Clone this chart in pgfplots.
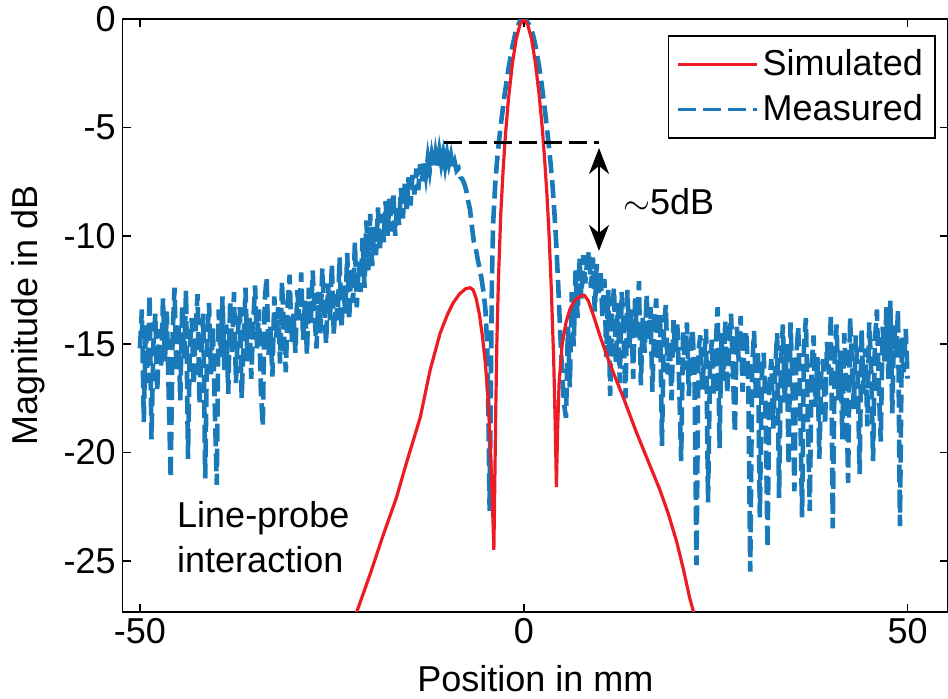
\documentclass[border=0pt]{standalone}
\usepackage{fontspec}
\setmainfont{Liberation Sans}
\usepackage{pgfplots}
\pgfplotsset{compat=1.18}
\usetikzlibrary{arrows.meta,calc}
\definecolor{simred}{RGB}{237,28,36}
\definecolor{measblue}{RGB}{25,121,185}

\begin{document}
\begin{tikzpicture}
\begin{axis}[%
name=ax,
width=412.65pt,
height=296.35pt,
scale only axis,
xmin=-52.25, xmax=55.26,
ymin=-27.35, ymax=0,
xtick={-50,0,50},
ytick={-25,-20,-15,-10,-5,0},
tick align=inside,
major tick length=4pt,
axis line style={line width=0.8pt},
every tick/.style={black,line width=0.8pt},
/pgf/number format/assume math mode=true,
tick label style={font=\fontsize{18}{18}\selectfont},
xlabel={Position in mm},
ylabel={Magnitude in dB},
every axis x label/.style={at={(axis description cs:0.5,0)},yshift=-40pt,anchor=base,font=\fontsize{18}{18}\selectfont},
every axis y label/.style={at={(axis description cs:-0.1146,0.5)},rotate=90,anchor=center,font=\fontsize{18}{18}\selectfont},
legend style={at={(axis description cs:0.985,0.973)},anchor=north east,draw=black,line width=0.8pt,
  font=\fontsize{18}{18}\selectfont,inner xsep=4pt,inner ysep=5pt,row sep=4pt,legend cell align=left},
legend image code/.code={\draw[#1] (0pt,0pt) -- (39.5pt,0pt);},
]
\addlegendimage{simred,line width=1.6pt}
\addlegendentry{Simulated}
\addlegendimage{measblue,line width=1.6pt,dash pattern=on 9pt off 3.5pt}
\addlegendentry{Measured}

% measured
\addplot[measblue,line width=2.3pt,dash pattern=on 9pt off 3.5pt,forget plot] coordinates {
(-50,-15.2) (-49.75,-13.4) (-49.5,-18.6) (-49.25,-14.1)
(-49,-16.8) (-48.75,-12.7) (-48.5,-19.4) (-48.25,-15.0)
(-48,-13.6) (-47.75,-17.2) (-47.5,-14.3) (-47.25,-16.1)
(-47,-12.9) (-46.75,-15.8) (-46.5,-13.5) (-46.25,-17.4)
(-46,-21.2) (-45.75,-14.6) (-45.5,-12.4) (-45.25,-16.3)
(-45,-14.0) (-44.75,-17.6) (-44.5,-13.2) (-44.25,-15.7)
(-44,-12.5) (-43.75,-20.3) (-43.5,-15.1) (-43.25,-13.8)
(-43,-16.9) (-42.75,-14.4) (-42.5,-12.7) (-42.25,-17.8)
(-42,-15.3) (-41.75,-13.6) (-41.5,-21.2) (-41.25,-14.8)
(-41,-13.1) (-40.75,-16.4) (-40.5,-14.2) (-40.25,-17.9)
(-40,-21.5) (-39.75,-13.4) (-39.5,-15.6) (-39.25,-12.8)
(-39,-16.2) (-38.75,-14.1) (-38.5,-17.3) (-38.25,-13.0)
(-38,-15.4) (-37.75,-12.6) (-37.5,-16.8) (-37.25,-14.5)
(-37,-13.3) (-36.75,-17.5) (-36.5,-14.9) (-36.25,-12.4)
(-36,-15.8) (-35.75,-13.7) (-35.5,-16.6) (-35.25,-14.0)
(-35,-12.3) (-34.75,-15.2) (-34.5,-13.4) (-34.25,-17.2)
(-34,-18.8) (-33.75,-13.0) (-33.5,-11.9) (-33.25,-15.5)
(-33,-14.2) (-32.75,-16.5) (-32.5,-12.8) (-32.25,-14.7)
(-32,-13.3) (-31.75,-15.9) (-31.5,-12.1) (-31.25,-14.4)
(-31,-16.3) (-30.75,-13.1) (-30.5,-11.8) (-30.25,-14.9)
(-30,-13.6) (-29.75,-15.4) (-29.5,-12.5) (-29.25,-13.9)
(-29,-11.7) (-28.75,-14.8) (-28.5,-13.0) (-28.25,-15.5)
(-28,-12.4) (-27.75,-14.1) (-27.5,-11.6) (-27.25,-13.7)
(-27,-15.2) (-26.75,-12.6) (-26.5,-14.5) (-26.25,-11.5)
(-26,-13.4) (-25.75,-15.0) (-25.5,-12.2) (-25.25,-13.9)
(-25,-11.3) (-24.75,-14.6) (-24.5,-12.7) (-24.25,-13.9)
(-24,-11.0) (-23.75,-14.3) (-23.5,-12.3) (-23.25,-13.6)
(-23,-10.8) (-22.75,-13.9) (-22.5,-11.5) (-22.25,-13.1)
(-22,-10.3) (-21.75,-13.3) (-21.5,-11.2) (-21.25,-12.6)
(-21,-10.1) (-20.75,-12.4) (-20.5,-9.3) (-20.25,-11.6)
(-20,-9.0) (-19.75,-11.4) (-19.5,-9.6) (-19.25,-10.9)
(-19,-8.7) (-18.75,-10.7) (-18.5,-9.0) (-18.25,-10.3)
(-18,-8.4) (-17.75,-10.0) (-17.5,-8.3) (-17.25,-9.8)
(-17,-8.0) (-16.75,-10.0) (-16.5,-8.6) (-16.25,-9.5)
(-16,-7.8) (-15.75,-9.2) (-15.5,-7.6) (-15.25,-8.9)
(-15,-7.3) (-14.75,-8.6) (-14.5,-7.2) (-14.25,-8.1)
(-14,-6.9) (-13.75,-7.9) (-13.5,-6.7) (-13.25,-7.5)
(-13,-6.5) (-12.75,-7.2) (-12.5,-6.4) (-12.25,-7.0)
(-12,-6.3) (-11.75,-6.9) (-11.5,-6.2) (-11.25,-6.8)
(-11,-6.1) (-10.75,-6.7) (-10.5,-6.2) (-10.25,-6.8)
(-10,-6.2) (-9.75,-6.7) (-9.5,-6.3) (-9.25,-6.9)
(-9,-6.6) (-8.75,-7.0) (-8.5,-6.9) (-8.25,-7.3)
(-8,-7.4) (-7.75,-7.6) (-7.5,-7.9) (-7.25,-8.4)
(-7,-8.8) (-6.75,-9.6) (-6.5,-10.3) (-6.25,-10.6)
(-6,-11.1) (-5.75,-11.5) (-5.5,-12.0) (-5.25,-12.6)
(-5,-13.4) (-4.75,-15.2) (-4.6,-18.5) (-4.45,-22.7) (-4.3,-17.0) (-4.15,-12.0)
(-4.0,-9.5) (-3.75,-7.8) (-3.5,-6.6) (-3.25,-5.7) (-3.0,-4.9) (-2.75,-4.2)
(-2.5,-3.5) (-2.25,-2.9) (-2,-2.3) (-1.75,-1.8) (-1.5,-1.3) (-1.25,-0.9)
(-1,-0.5) (-0.75,-0.3) (-0.5,-0.1) (-0.25,0) (0,0) (0.25,-0.05) (0.5,-0.15)
(0.75,-0.3) (1,-0.5) (1.25,-0.8) (1.5,-1.2) (1.75,-1.7) (2,-2.2) (2.25,-2.8)
(2.5,-3.5) (2.75,-4.2) (3,-5.0) (3.25,-5.8) (3.5,-6.7) (3.75,-7.7) (4,-9.0)
(4.25,-10.5) (4.5,-12.4) (4.75,-14.5) (5,-16.4) (5.25,-17.8)
(5.5,-18.4) (5.75,-14.2) (6.0,-17.0) (6.25,-12.6) (6.5,-15.1) (6.75,-11.6)
(7,-13.8) (7.25,-11.0) (7.5,-12.9) (7.75,-10.9) (8,-12.2) (8.25,-11.2)
(8.5,-10.7) (8.75,-12.4) (9,-11.0) (9.25,-13.5) (9.5,-11.3) (9.75,-12.8)
(10,-11.6) (10.25,-13.8) (10.5,-12.0) (10.75,-15.6) (11,-12.5) (11.25,-17.4)
(11.5,-13.6) (11.75,-12.4) (12,-15.9) (12.25,-13.1) (12.5,-16.8) (12.75,-12.6)
(13,-14.4) (13.25,-17.5) (13.5,-12.5) (13.75,-15.2) (14,-13.4) (14.25,-16.6)
(14.5,-12.9) (14.75,-14.7) (15,-12.1) (15.25,-16.9) (15.5,-13.8) (15.75,-15.4)
(16,-12.7) (16.25,-14.9) (16.5,-13.3) (16.75,-17.2) (17,-14.0) (17.25,-12.9)
(17.5,-15.8) (17.75,-13.6) (18,-19.7) (18.25,-14.3) (18.5,-13.2) (18.75,-16.4)
(19,-14.8) (19.25,-17.6) (19.5,-13.9) (19.75,-15.5) (20,-14.1) (20.25,-17.0)
(20.5,-20.4) (20.75,-14.4) (21,-16.2) (21.25,-14.0) (21.5,-17.4) (21.75,-15.0)
(22,-14.3) (22.25,-16.8) (22.5,-25.2) (22.75,-15.3) (23,-14.6) (23.25,-17.1)
(23.5,-15.6) (23.75,-14.3) (24,-22.3) (24.25,-16.2) (24.5,-14.8) (24.75,-17.4)
(25,-15.1) (25.25,-13.3) (25.5,-19.8) (25.75,-14.5) (26,-16.7) (26.25,-13.9)
(26.5,-17.3) (26.75,-15.2) (27,-13.6) (27.25,-16.4) (27.5,-19.1) (27.75,-14.2)
(28,-15.8) (28.25,-13.7) (28.5,-17.2) (28.75,-15.0) (29,-14.4) (29.25,-16.9)
(29.5,-25.5) (29.75,-16.1) (30,-14.4) (30.25,-17.6) (30.5,-15.3) (30.75,-23.0)
(31,-16.5) (31.25,-15.4) (31.5,-18.2) (31.75,-24.4) (32,-16.8) (32.25,-15.7)
(32.5,-18.9) (32.75,-16.2) (33,-14.5) (33.25,-22.1) (33.5,-16.0) (33.75,-14.1)
(34,-17.7) (34.25,-15.0) (34.5,-20.6) (34.75,-14.0) (35,-16.9) (35.25,-21.8)
(35.5,-15.6) (35.75,-14.2) (36,-17.5) (36.25,-23.0) (36.5,-15.1) (36.75,-13.8)
(37,-18.3) (37.25,-22.7) (37.5,-16.0) (37.75,-14.6) (38,-17.9) (38.25,-15.6)
(38.5,-20.3) (38.75,-16.3) (39,-15.7) (39.25,-18.7) (39.5,-14.9) (39.75,-16.4)
(40,-13.6) (40.25,-23.5) (40.5,-15.8) (40.75,-14.1) (41,-17.6) (41.25,-15.3)
(41.5,-19.4) (41.75,-14.5) (42,-16.8) (42.25,-21.4) (42.5,-13.8) (42.75,-15.9)
(43,-18.0) (43.25,-14.6) (43.5,-16.5) (43.75,-21.0) (44,-14.3) (44.25,-17.3)
(44.5,-15.2) (44.75,-18.8) (45,-14.0) (45.25,-16.1) (45.5,-20.4) (45.75,-14.8)
(46,-13.4) (46.25,-17.0) (46.5,-19.5) (46.75,-14.2) (47,-15.8) (47.25,-13.3)
(47.5,-16.6) (47.75,-13.0) (48,-18.2) (48.25,-14.1) (48.5,-15.5) (48.75,-13.4)
(49,-23.4) (49.25,-14.7) (49.5,-16.3) (49.75,-14.3) (50,-16.6)
};

% simulated
\addplot[simred,line width=1.6pt,forget plot] coordinates {
(-21.8,-27.4) (-20,-25.6) (-18.4,-23.9) (-16.6,-22.1) (-15.3,-20.5)
(-13.5,-18.4) (-12.2,-16.2) (-10.9,-14.5) (-9.9,-13.6) (-9.2,-13.1)
(-8.4,-12.7) (-7.6,-12.45) (-7.0,-12.4) (-6.6,-12.5) (-6.2,-12.9)
(-5.8,-13.6) (-5.4,-14.6) (-5.0,-15.9) (-4.7,-17.3) (-4.4,-19.3)
(-4.2,-21.2) (-4.0,-23.3) (-3.9,-24.5) (-3.8,-22.0) (-3.65,-18.0)
(-3.5,-14.8) (-3.3,-12.0) (-3.0,-9.0) (-2.7,-7.0) (-2.4,-5.4)
(-2.0,-3.7) (-1.5,-2.1) (-1.0,-0.95) (-0.5,-0.25) (0,0)
(0.5,-0.25) (1.0,-0.9) (1.5,-2.0) (2.0,-3.5) (2.4,-5.0)
(2.7,-6.4) (3.0,-8.0) (3.3,-10.0) (3.6,-12.6) (3.9,-15.8)
(4.1,-18.8) (4.25,-21.6) (4.4,-19.0) (4.6,-16.8) (5.0,-15.0)
(5.5,-14.0) (6.0,-13.4) (6.6,-13.0) (7.3,-12.8) (7.9,-12.75)
(8.4,-13.0) (9.0,-13.6) (10,-14.7) (11.2,-15.9) (13,-17.5)
(14.7,-19.1) (16.2,-20.4) (17.7,-21.7) (18.8,-22.8) (19.9,-24.1)
(20.8,-25.4) (21.6,-26.7) (22.3,-27.6)
};

\draw[black,line width=1.8pt,dash pattern=on 9pt off 3.5pt] (axis cs:-10.4,-5.7) -- (axis cs:9.8,-5.7);
\draw[black,line width=0.7pt,{Stealth[length=13pt,width=10pt,inset=4pt]}-{Stealth[length=13pt,width=10pt,inset=4pt]}]
  (axis cs:9.8,-5.95) -- (axis cs:9.8,-10.7);
\node[anchor=west,inner sep=0pt,font=\fontsize{18}{18}\selectfont] at (axis cs:12.9,-8.45) {$\sim$5dB};
\node[anchor=west,inner sep=0pt,align=left,font=\fontsize{18}{22.5}\selectfont] at (axis cs:-45.2,-23.93) {Line-probe\\interaction};
\end{axis}
\pgfresetboundingbox
\path[use as bounding box] ($(ax.south west)+(-61.35pt,-43.15pt)$) rectangle ($(ax.south west)+(412.65pt,305.85pt)$);
\end{tikzpicture}
\end{document}
